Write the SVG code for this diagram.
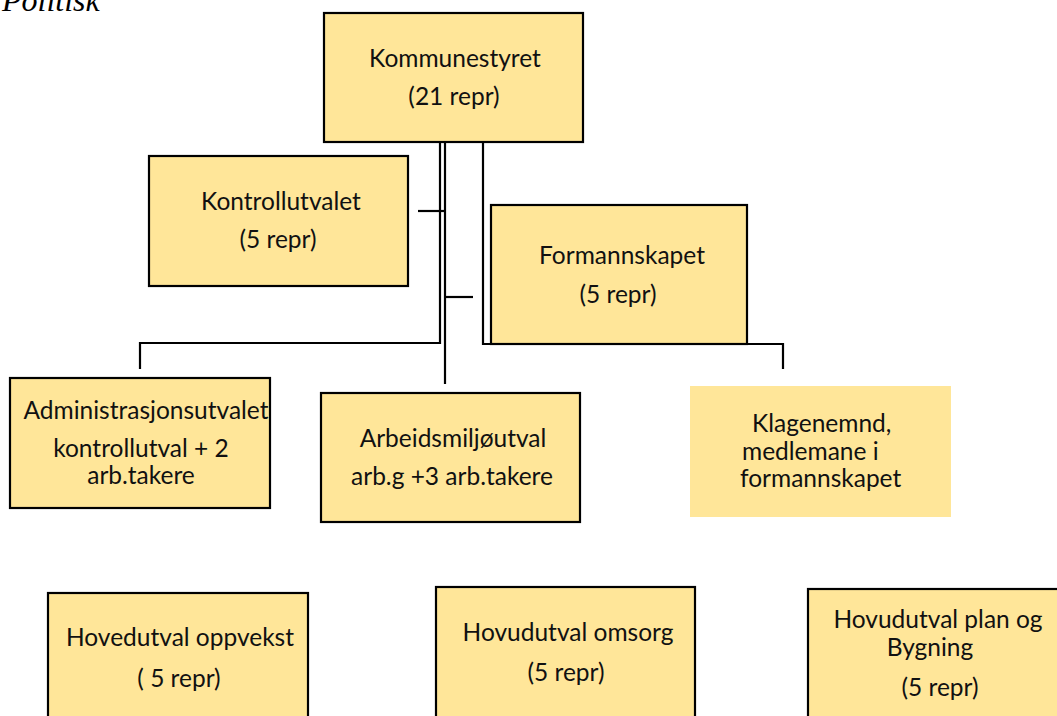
<svg xmlns="http://www.w3.org/2000/svg" width="1057" height="716" viewBox="0 0 1057 716">
<style>
.box{fill:#FFE699;stroke:#000;stroke-width:2.2}
.nob{fill:#FFE699}
.t{font-family:Lato,"Liberation Sans",sans-serif;font-size:24.5px;fill:#111;text-anchor:middle}
.n{font-family:Lato,"Liberation Sans",sans-serif;font-size:24.5px;fill:#111;text-anchor:middle}
.k{font-family:Lato,"Liberation Sans",sans-serif;font-size:24.5px;fill:#111}
.c{fill:none;stroke:#000;stroke-width:2.2}
.title{font-family:"Liberation Serif",serif;font-style:italic;font-size:32px;fill:#000}
</style>
<rect width="1057" height="716" fill="#fff"/>
<text class="title" x="2" y="11">Politisk</text>
<g id="connectors">
<path class="c" d="M440,142 V343 H140 V369"/>
<path class="c" d="M445,142 V384"/>
<path class="c" d="M418,211 H445"/>
<path class="c" d="M445,297 H473"/>
<path class="c" d="M483,142 V344 H783 V369"/>
</g>
<g id="kommunestyret">
<rect class="box" x="324" y="13" width="259" height="129"/>
<text class="t" x="455" y="67">Kommunestyret</text>
<text class="t" x="454" y="105">(21 repr)</text>
</g>
<g id="kontrollutvalet">
<rect class="box" x="149" y="156" width="259" height="130"/>
<text class="t" x="281" y="210">Kontrollutvalet</text>
<text class="t" x="278" y="248">(5 repr)</text>
</g>
<g id="formannskapet">
<rect class="box" x="491" y="205" width="256" height="139"/>
<text class="t" x="622" y="264">Formannskapet</text>
<text class="t" x="618" y="303">(5 repr)</text>
</g>
<g id="administrasjonsutvalet">
<rect class="box" x="10" y="378" width="260" height="130"/>
<text class="t" x="146" y="419">Administrasjonsutvalet</text>
<text class="t" x="141" y="457">kontrollutval + 2</text>
<text class="t" x="141" y="484">arb.takere</text>
</g>
<g id="arbeidsmiljoutval">
<rect class="box" x="321" y="393" width="259" height="129"/>
<text class="t" x="453" y="447">Arbeidsmiljøutval</text>
<text class="t" x="452" y="485">arb.g +3 arb.takere</text>
</g>
<g id="klagenemnd">
<rect class="nob" x="690" y="386" width="261" height="131"/>
<text class="k" x="752" y="432">Klagenemnd,</text>
<text class="k" x="742" y="460">medlemane i</text>
<text class="k" x="740" y="487">formannskapet</text>
</g>
<g id="hovedutval-oppvekst">
<rect class="box" x="48" y="593" width="260" height="140"/>
<text class="n" x="180" y="646">Hovedutval oppvekst</text>
<text class="n" x="179" y="687">( 5 repr)</text>
</g>
<g id="hovudutval-omsorg">
<rect class="box" x="436" y="587" width="259" height="140"/>
<text class="n" x="568" y="641">Hovudutval omsorg</text>
<text class="n" x="566" y="681">(5 repr)</text>
</g>
<g id="hovudutval-plan">
<rect class="box" x="808" y="589" width="260" height="140"/>
<text class="n" x="938" y="628">Hovudutval plan og</text>
<text class="n" x="930" y="656">Bygning</text>
<text class="n" x="940" y="696">(5 repr)</text>
</g>
</svg>
